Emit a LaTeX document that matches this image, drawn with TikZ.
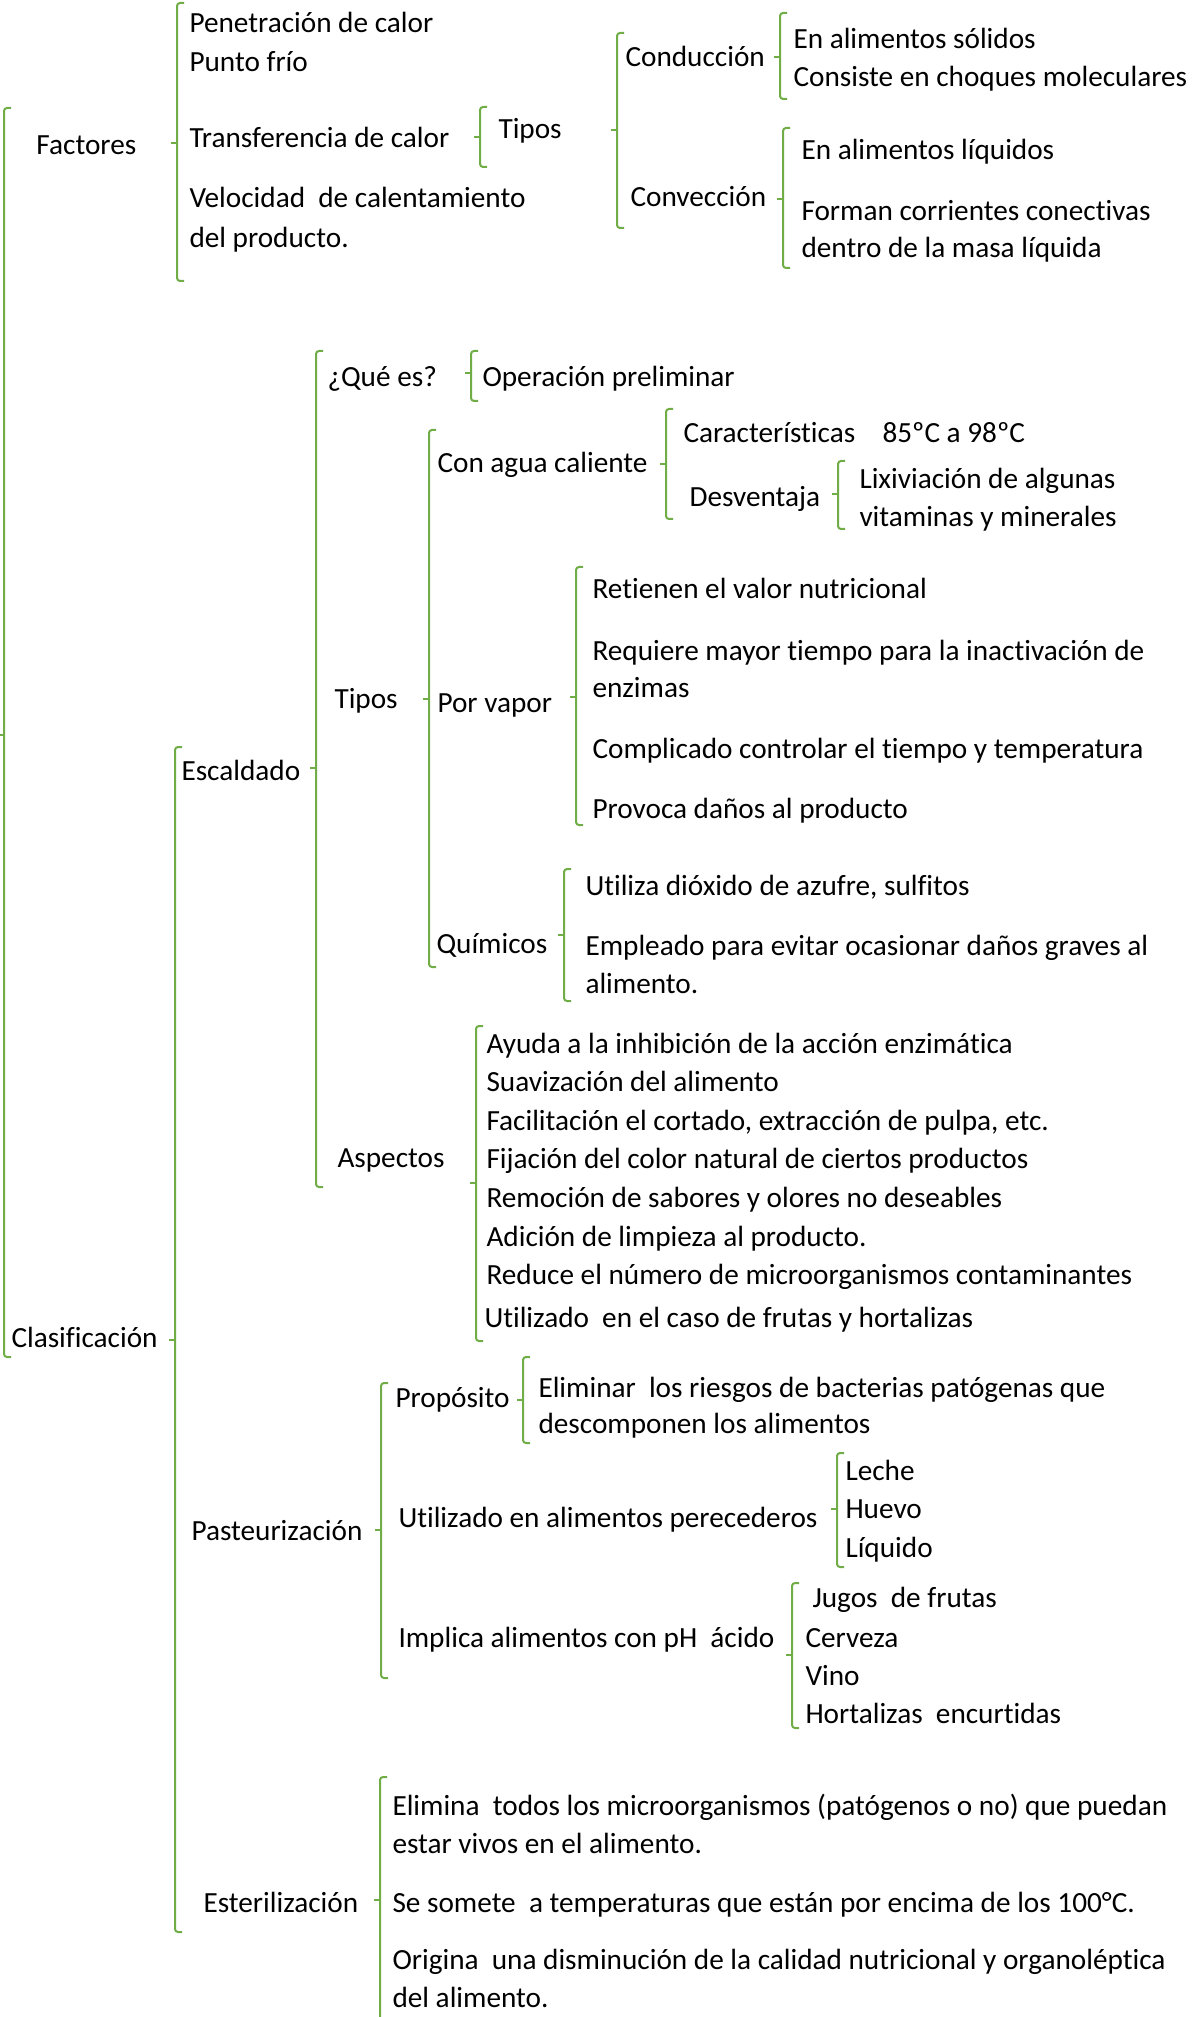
\documentclass[tikz,border=0pt]{standalone}
\usepackage{fontspec}
\setmainfont{Carlito}[Ligatures=NoCommon]
\definecolor{verde}{HTML}{70AD47}
\tikzset{llave/.style={draw=verde,line width=.8pt,rounded corners=1.2pt},
  txt/.style={anchor=base west,inner sep=0pt,font=\fontsize{11.7}{13}\selectfont}}
\newcommand{\llave}[4]{\draw[llave] (#1+7,#2)--(#1,#2)--(#1,#4)--(#1+7,#4);\draw[llave] (#1-6,#3)--(#1,#3);}
\begin{document}
\begin{tikzpicture}[x=.4pt,y=-.4pt]
\useasboundingbox (0,0) rectangle (1199,2017);
\llave{4}{108}{735}{1357}
\node[txt] (factores) at (36,155) {Factores};
\node[txt] (clasif) at (11,1347) {Clasificación};
\llave{177}{3}{143}{281}
\node[txt] (pen) at (189,33) {Penetración de calor};
\node[txt] (punto) at (189,72) {Punto frío};
\node[txt] (transf) at (189,148) {Transferencia de calor};
\node[txt] (veloc) at (189,208) {Velocidad~ de calentamiento};
\node[txt] (veloc2) at (189,248) {del producto.};
\llave{480}{107}{137}{167}
\node[txt] (tipos) at (498,139) {Tipos};
\llave{617}{33}{130}{228}
\node[txt] (conduc) at (625,67) {Conducción};
\node[txt] (convec) at (630,207) {Convección};
\llave{780}{13}{57}{99}
\node[txt] (solidos) at (793,49) {En alimentos sólidos};
\node[txt] (choques) at (793,87) {Consiste en choques moleculares};
\llave{783}{128}{199}{268}
\node[txt] (liquidos) at (801,160) {En alimentos líquidos};
\node[txt] (corrientes) at (801,221) {Forman corrientes conectivas};
\node[txt] (corrientes2) at (801,258) {dentro de la masa líquida};
\llave{175}{747}{1340}{1932}
\node[txt] (escaldado) at (181,780) {Escaldado};
\node[txt] (pasteur) at (191,1540) {Pasteurización};
\node[txt] (esteril) at (203,1912) {Esterilización};
\llave{316}{351}{768}{1187}
\node[txt] (quees) at (327,387) {¿Qué es?};
\node[txt] (tiposb) at (334,708) {Tipos};
\node[txt] (aspectos) at (337,1167) {Aspectos};
\llave{471}{351}{373}{401}
\node[txt] (operacion) at (482,387) {Operación preliminar};
\llave{429}{430}{699}{967}
\node[txt] (agua) at (437,473) {Con agua caliente};
\node[txt] (vapor) at (437,712) {Por vapor};
\node[txt] (quimicos) at (436,953) {Químicos};
\llave{666}{409}{464}{519}
\node[txt] (caract) at (683,443) {Características};
\node[txt] (rango) at (882,443) {85ºC a 98ºC};
\node[txt] (desvent) at (689,507) {Desventaja};
\llave{838}{461}{494}{529}
\node[txt] (lixiv) at (859,489) {Lixiviación de algunas};
\node[txt] (lixiv2) at (859,527) {vitaminas y minerales};
\llave{576}{567}{697}{825}
\node[txt] (retienen) at (592,598) {Retienen el valor nutricional};
\node[txt] (requiere) at (592,660) {Requiere mayor tiempo para la inactivación de};
\node[txt] (requiere2) at (592,697) {enzimas};
\node[txt] (complicado) at (592,758) {Complicado controlar el tiempo y temperatura};
\node[txt] (provoca) at (592,818) {Provoca daños al producto};
\llave{564}{869}{935}{1001}
\node[txt] (dioxido) at (585,895) {Utiliza dióxido de azufre, sulfitos};
\node[txt] (empleado) at (585,955) {Empleado para evitar ocasionar daños graves al};
\node[txt] (empleado2) at (585,993) {alimento.};
\llave{476}{1026}{1183}{1341}
\node[txt] (ayuda) at (486,1053) {Ayuda a la inhibición de la acción enzimática};
\node[txt] (suaviz) at (486,1091) {Suavización del alimento};
\node[txt] (facilit) at (486,1130) {Facilitación el cortado, extracción de pulpa, etc.};
\node[txt] (fijacion) at (486,1168) {Fijación del color natural de ciertos productos};
\node[txt] (remocion) at (486,1207) {Remoción de sabores y olores no deseables};
\node[txt] (adicion) at (486,1246) {Adición de limpieza al producto.};
\node[txt] (reduce) at (486,1284) {Reduce el número de microorganismos contaminantes};
\node[txt] (frutas) at (484,1327) {Utilizado~ en el caso de frutas y hortalizas};
\llave{381}{1383}{1530}{1678}
\node[txt] (proposito) at (395,1407) {Propósito};
\node[txt] (perecederos) at (398,1527) {Utilizado en alimentos perecederos};
\node[txt] (implica) at (398,1647) {Implica alimentos con pH~ ácido};
\llave{523}{1357}{1400}{1443}
\node[txt] (eliminar) at (538,1397) {Eliminar~ los riesgos de bacterias patógenas que};
\node[txt] (eliminar2) at (538,1433) {descomponen los alimentos};
\llave{837}{1453}{1509}{1567}
\node[txt] (leche) at (845,1480) {Leche};
\node[txt] (huevo) at (845,1518) {Huevo};
\node[txt] (liquido) at (845,1557) {Líquido};
\llave{792}{1583}{1655}{1728}
\node[txt] (jugos) at (812,1607) {Jugos~ de frutas};
\node[txt] (cerveza) at (805,1647) {Cerveza};
\node[txt] (vino) at (805,1685) {Vino};
\node[txt] (hortalizas) at (805,1723) {Hortalizas~ encurtidas};
\llave{380}{1777}{1900}{2030}
\node[txt] (elimina) at (392,1815) {Elimina~ todos los microorganismos (patógenos o no) que puedan};
\node[txt] (elimina2) at (392,1853) {estar vivos en el alimento.};
\node[txt] (somete) at (392,1912) {Se somete~ a temperaturas que están por encima de los 100°C.};
\node[txt] (origina) at (392,1969) {Origina~ una disminución de la calidad nutricional y organoléptica};
\node[txt] (origina2) at (392,2007) {del alimento.};
\end{tikzpicture}
\end{document}
